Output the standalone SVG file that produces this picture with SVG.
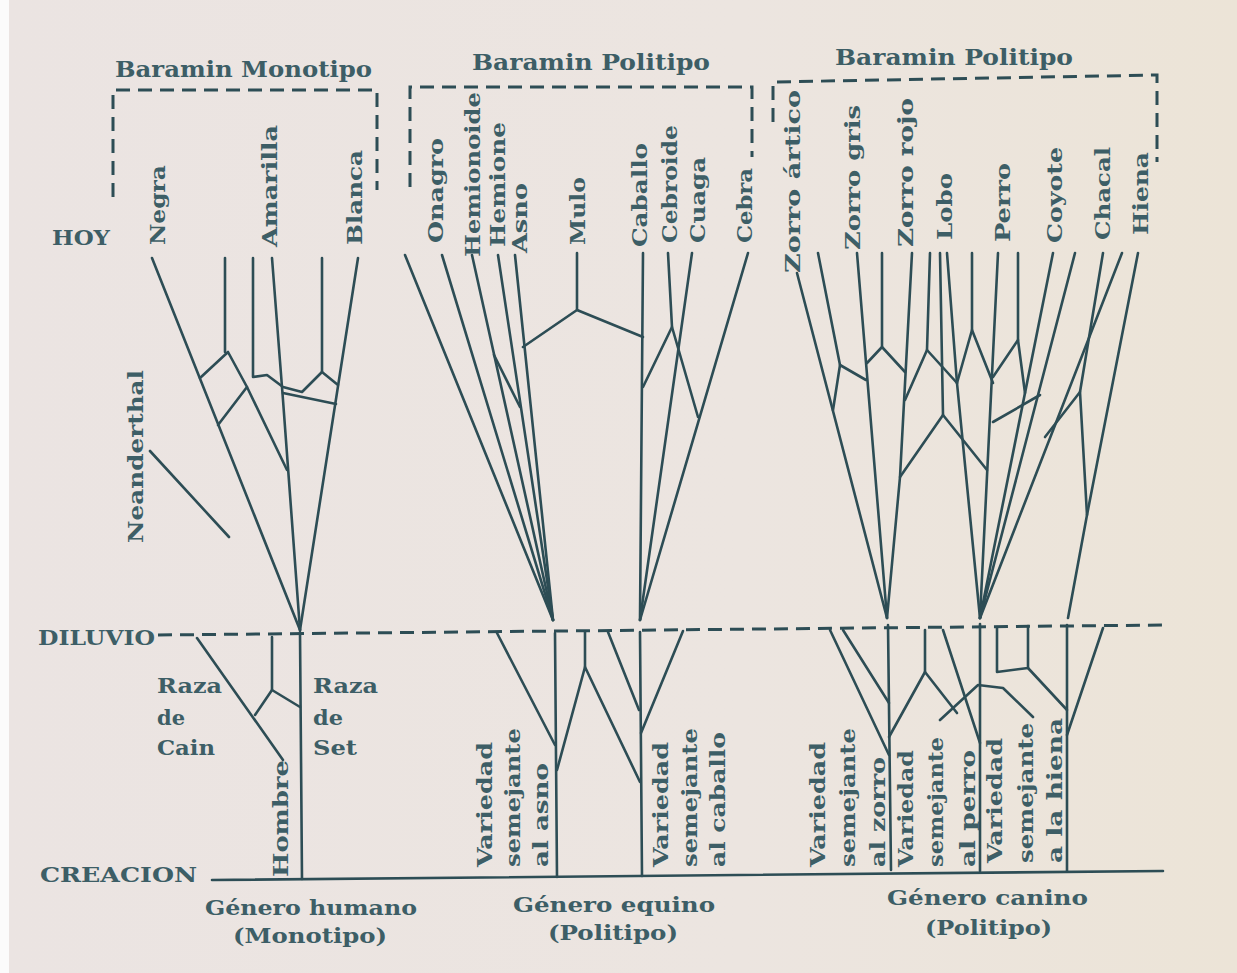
<svg xmlns="http://www.w3.org/2000/svg" width="1237" height="973" viewBox="0 0 1237 973">
<defs>
<linearGradient id="bg" x1="0" y1="0" x2="1" y2="0">
<stop offset="0" stop-color="#ebe4e2"/>
<stop offset="0.6" stop-color="#ece5e0"/>
<stop offset="1" stop-color="#ece4d7"/>
</linearGradient>
<style>
.ln{fill:none;stroke:#2d4d55;stroke-width:2.6;stroke-linejoin:round;stroke-linecap:round}
.ds{fill:none;stroke:#2d4d55;stroke-width:3;stroke-dasharray:14 8}
.t{font-family:"DejaVu Serif","Liberation Serif",serif;font-weight:bold;fill:#3d5e66;font-size:21px}
.h{font-size:22px}
.s{font-size:20px}
</style>
</defs>
<rect width="1237" height="973" fill="url(#bg)"/>
<rect width="9" height="973" fill="#fbfbfb"/>

<g id="brackets">
<path class="ds" d="M113,197 V90 H377 V190"/>
<path class="ds" d="M410,187 V87 H752 V157"/>
<path class="ds" d="M773,122 V82 L1157,75 V162"/>
</g>

<g id="titles">
<text class="t h" x="115" y="77" textLength="257" lengthAdjust="spacingAndGlyphs">Baramin Monotipo</text>
<text class="t h" x="472" y="70" textLength="238" lengthAdjust="spacingAndGlyphs">Baramin Politipo</text>
<text class="t h" x="835" y="65" textLength="238" lengthAdjust="spacingAndGlyphs">Baramin Politipo</text>
</g>

<g id="eras">
<text class="t" x="52" y="245" textLength="58" lengthAdjust="spacingAndGlyphs">HOY</text>
<text class="t" x="38" y="645" textLength="117" lengthAdjust="spacingAndGlyphs">DILUVIO</text>
<text class="t" x="40" y="882" textLength="157" lengthAdjust="spacingAndGlyphs">CREACION</text>
</g>

<g id="connectors">
<path class="ds" d="M158,635 L1165,625"/>
<path class="ln" d="M212,880 L1163,871"/>

<path class="ln" d="M152,258 L300,630"/>
<path class="ln" d="M358,258 L300,630"/>
<path class="ln" d="M272,258 L283,400 L300,630"/>
<path class="ln" d="M225,258 V352"/>
<path class="ln" d="M200,378 L228,352 L247,387 L218,425"/>
<path class="ln" d="M247,387 L287,470"/>
<path class="ln" d="M253,258 V377 L267,375 L283,387 L302,392 L322,372"/>
<path class="ln" d="M322,258 V372 L338,385"/>
<path class="ln" d="M283,393 L336,404"/>
<path class="ln" d="M150,451 L229,537"/>
<path class="ln" d="M300,632 L302,879"/>
<path class="ln" d="M197,638 L283,760"/>
<path class="ln" d="M272,637 V690 L255,715"/>
<path class="ln" d="M272,690 L300,707"/>

<path class="ln" d="M405,255 L553,620"/>
<path class="ln" d="M442,255 L553,620"/>
<path class="ln" d="M472,255 L553,620"/>
<path class="ln" d="M498,255 L553,620"/>
<path class="ln" d="M515,255 L553,620"/>
<path class="ln" d="M494,355 L520,407"/>
<path class="ln" d="M577,253 V310 L523,347"/>
<path class="ln" d="M577,310 L643,337"/>
<path class="ln" d="M643,253 L640,620"/>
<path class="ln" d="M668,253 L672,327 L643,387"/>
<path class="ln" d="M672,327 L698,417"/>
<path class="ln" d="M692,253 L640,620"/>
<path class="ln" d="M748,253 L640,620"/>
<path class="ln" d="M555,633 L557,877"/>
<path class="ln" d="M640,632 L642,876"/>
<path class="ln" d="M497,633 L555,745"/>
<path class="ln" d="M557,770 L585,667 L640,782"/>
<path class="ln" d="M585,632 V667"/>
<path class="ln" d="M608,632 L639,710"/>
<path class="ln" d="M683,631 L641,733"/>

<path class="ln" d="M797,273 L887,618"/>
<path class="ln" d="M818,253 L840,365 L833,410"/>
<path class="ln" d="M840,365 L866,380"/>
<path class="ln" d="M857,253 L887,618"/>
<path class="ln" d="M882,253 V347 L867,363"/>
<path class="ln" d="M882,347 L905,372"/>
<path class="ln" d="M912,253 L900,477 L887,618"/>
<path class="ln" d="M930,253 L927,350 L905,400"/>
<path class="ln" d="M927,350 L957,383"/>
<path class="ln" d="M940,253 L943,415"/>
<path class="ln" d="M947,253 L957,383 L980,618"/>
<path class="ln" d="M972,253 V330 L957,383"/>
<path class="ln" d="M972,330 L993,383"/>
<path class="ln" d="M998,253 L980,618"/>
<path class="ln" d="M1018,253 V340 L993,377"/>
<path class="ln" d="M1018,340 L1025,393"/>
<path class="ln" d="M1053,253 L980,618"/>
<path class="ln" d="M1075,253 L980,618"/>
<path class="ln" d="M993,422 L1040,395"/>
<path class="ln" d="M900,477 L943,415 L987,470"/>
<path class="ln" d="M1122,253 L980,618"/>
<path class="ln" d="M1103,253 L1080,392 L1087,515"/>
<path class="ln" d="M1080,392 L1045,437"/>
<path class="ln" d="M1138,253 L1087,515 L1068,618"/>
<path class="ln" d="M888,625 L891,870"/>
<path class="ln" d="M980,624 V871"/>
<path class="ln" d="M1067,625 V871"/>
<path class="ln" d="M830,630 L889,755"/>
<path class="ln" d="M843,630 L889,703"/>
<path class="ln" d="M889,737 L925,672 L957,713"/>
<path class="ln" d="M925,630 V672"/>
<path class="ln" d="M943,630 L980,743"/>
<path class="ln" d="M997,627 V672 L1028,668 V626"/>
<path class="ln" d="M1028,668 L1067,710"/>
<path class="ln" d="M940,720 L978,685 L1003,688 L1033,717"/>
<path class="ln" d="M1103,628 L1067,735"/>
</g>

<g id="human-labels">
<text class="t" transform="translate(165,245) rotate(-90)" textLength="80" lengthAdjust="spacingAndGlyphs">Negra</text>
<text class="t" transform="translate(277,247) rotate(-90)" textLength="122" lengthAdjust="spacingAndGlyphs">Amarilla</text>
<text class="t" transform="translate(362,245) rotate(-90)" textLength="95" lengthAdjust="spacingAndGlyphs">Blanca</text>
<text class="t" transform="translate(143,543) rotate(-90)" textLength="173" lengthAdjust="spacingAndGlyphs">Neanderthal</text>
<text class="t" x="157" y="693" textLength="65" lengthAdjust="spacingAndGlyphs">Raza</text>
<text class="t" x="157" y="725" textLength="28" lengthAdjust="spacingAndGlyphs">de</text>
<text class="t" x="157" y="755" textLength="58" lengthAdjust="spacingAndGlyphs">Cain</text>
<text class="t" x="313" y="693" textLength="65" lengthAdjust="spacingAndGlyphs">Raza</text>
<text class="t" x="313" y="725" textLength="30" lengthAdjust="spacingAndGlyphs">de</text>
<text class="t" x="313" y="755" textLength="44" lengthAdjust="spacingAndGlyphs">Set</text>
<text class="t" transform="translate(288,877) rotate(-90)" textLength="117" lengthAdjust="spacingAndGlyphs">Hombre</text>
<text class="t" x="205" y="915" textLength="212" lengthAdjust="spacingAndGlyphs">Género humano</text>
<text class="t" x="233" y="943" textLength="154" lengthAdjust="spacingAndGlyphs">(Monotipo)</text>
</g>

<g id="equine-labels">
<text class="t" transform="translate(443,243) rotate(-90)" textLength="105" lengthAdjust="spacingAndGlyphs">Onagro</text>
<text class="t" transform="translate(480,257) rotate(-90)" textLength="165" lengthAdjust="spacingAndGlyphs">Hemionoide</text>
<text class="t" transform="translate(505,247) rotate(-90)" textLength="125" lengthAdjust="spacingAndGlyphs">Hemione</text>
<text class="t" transform="translate(527,253) rotate(-90)" textLength="70" lengthAdjust="spacingAndGlyphs">Asno</text>
<text class="t" transform="translate(585,245) rotate(-90)" textLength="68" lengthAdjust="spacingAndGlyphs">Mulo</text>
<text class="t" transform="translate(647,247) rotate(-90)" textLength="104" lengthAdjust="spacingAndGlyphs">Caballo</text>
<text class="t" transform="translate(677,243) rotate(-90)" textLength="118" lengthAdjust="spacingAndGlyphs">Cebroide</text>
<text class="t" transform="translate(705,243) rotate(-90)" textLength="86" lengthAdjust="spacingAndGlyphs">Cuaga</text>
<text class="t" transform="translate(752,243) rotate(-90)" textLength="75" lengthAdjust="spacingAndGlyphs">Cebra</text>
<text class="t s" transform="translate(492,867) rotate(-90)" textLength="125" lengthAdjust="spacingAndGlyphs">Variedad</text>
<text class="t s" transform="translate(520,867) rotate(-90)" textLength="139" lengthAdjust="spacingAndGlyphs">semejante</text>
<text class="t s" transform="translate(548,867) rotate(-90)" textLength="104" lengthAdjust="spacingAndGlyphs">al asno</text>
<text class="t s" transform="translate(668,867) rotate(-90)" textLength="125" lengthAdjust="spacingAndGlyphs">Variedad</text>
<text class="t s" transform="translate(697,867) rotate(-90)" textLength="139" lengthAdjust="spacingAndGlyphs">semejante</text>
<text class="t s" transform="translate(725,867) rotate(-90)" textLength="135" lengthAdjust="spacingAndGlyphs">al caballo</text>
<text class="t" x="513" y="912" textLength="202" lengthAdjust="spacingAndGlyphs">Género equino</text>
<text class="t" x="548" y="940" textLength="130" lengthAdjust="spacingAndGlyphs">(Politipo)</text>
</g>

<g id="canine-labels">
<text class="t" transform="translate(800,273) rotate(-90)" textLength="183" lengthAdjust="spacingAndGlyphs">Zorro ártico</text>
<text class="t" transform="translate(860,250) rotate(-90)" textLength="145" lengthAdjust="spacingAndGlyphs">Zorro gris</text>
<text class="t" transform="translate(913,247) rotate(-90)" textLength="149" lengthAdjust="spacingAndGlyphs">Zorro rojo</text>
<text class="t" transform="translate(952,240) rotate(-90)" textLength="67" lengthAdjust="spacingAndGlyphs">Lobo</text>
<text class="t" transform="translate(1010,242) rotate(-90)" textLength="79" lengthAdjust="spacingAndGlyphs">Perro</text>
<text class="t" transform="translate(1062,243) rotate(-90)" textLength="96" lengthAdjust="spacingAndGlyphs">Coyote</text>
<text class="t" transform="translate(1110,240) rotate(-90)" textLength="93" lengthAdjust="spacingAndGlyphs">Chacal</text>
<text class="t" transform="translate(1148,235) rotate(-90)" textLength="83" lengthAdjust="spacingAndGlyphs">Hiena</text>
<text class="t s" transform="translate(825,867) rotate(-90)" textLength="125" lengthAdjust="spacingAndGlyphs">Variedad</text>
<text class="t s" transform="translate(855,867) rotate(-90)" textLength="139" lengthAdjust="spacingAndGlyphs">semejante</text>
<text class="t s" transform="translate(885,867) rotate(-90)" textLength="110" lengthAdjust="spacingAndGlyphs">al zorro</text>
<text class="t s" transform="translate(913,867) rotate(-90)" textLength="117" lengthAdjust="spacingAndGlyphs">Variedad</text>
<text class="t s" transform="translate(943,867) rotate(-90)" textLength="130" lengthAdjust="spacingAndGlyphs">semejante</text>
<text class="t s" transform="translate(975,867) rotate(-90)" textLength="117" lengthAdjust="spacingAndGlyphs">al perro</text>
<text class="t s" transform="translate(1002,863) rotate(-90)" textLength="125" lengthAdjust="spacingAndGlyphs">Variedad</text>
<text class="t s" transform="translate(1033,863) rotate(-90)" textLength="140" lengthAdjust="spacingAndGlyphs">semejante</text>
<text class="t s" transform="translate(1062,863) rotate(-90)" textLength="145" lengthAdjust="spacingAndGlyphs">a la hiena</text>
<text class="t" x="887" y="905" textLength="201" lengthAdjust="spacingAndGlyphs">Género canino</text>
<text class="t" x="925" y="935" textLength="127" lengthAdjust="spacingAndGlyphs">(Politipo)</text>
</g>
</svg>
